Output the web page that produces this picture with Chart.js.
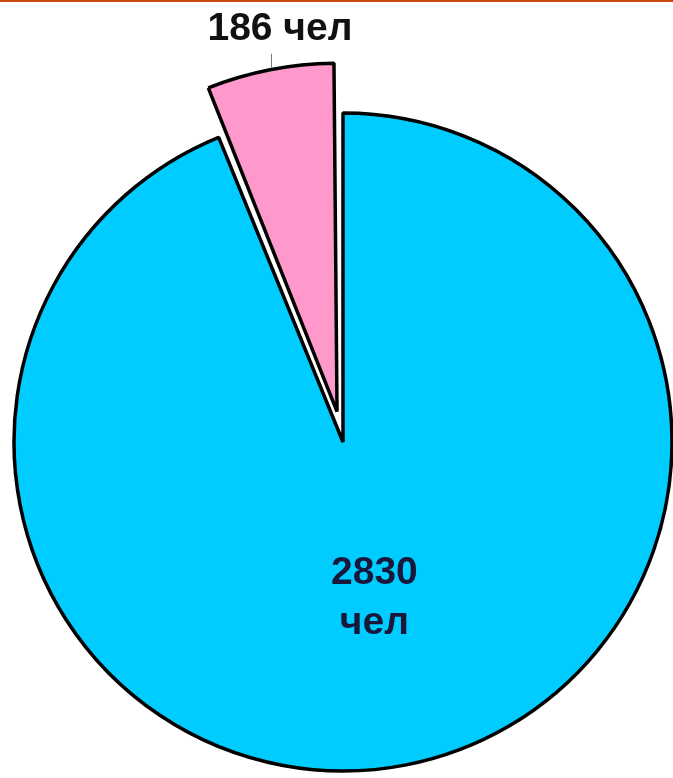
<!DOCTYPE html>
<html>
<head>
<meta charset="utf-8">
<script src="https://cdn.jsdelivr.net/npm/chart.js@4"></script>
<style>
  html, body { margin: 0; padding: 0; background: #ffffff; }
  #wrap { position: relative; width: 673px; height: 778px; }
  #topline { position: absolute; left: 0; top: 0; width: 673px; height: 2px; background: #C9470F; z-index: 2; }
  canvas { display: block; }
</style>
</head>
<body>
<div id="wrap">
  <div id="topline"></div>
  <canvas id="c" width="673" height="778"></canvas>
</div>
<script>
const categories = ['2830 чел', '186 чел'];
const values = [2830, 186];
const valueLabels = [['2830', 'чел'], ['186 чел']];
const sliceColors = ['#00CCFF', '#FF99CC'];

const labelPlugin = {
  id: 'sliceLabels',
  afterDatasetsDraw(chart) {
    const ctx = chart.ctx;
    const meta = chart.getDatasetMeta(0);
    ctx.save();
    ctx.font = 'bold 39px "Liberation Sans", Arial, sans-serif';
    ctx.textAlign = 'center';
    ctx.textBaseline = 'alphabetic';
    // big slice label (inside)
    const a0 = meta.data[0];
    const mid0 = (a0.startAngle + a0.endAngle) / 2;
    const r0 = a0.outerRadius * 0.48;
    const lx = a0.x + Math.cos(mid0) * r0;
    const ly = a0.y + Math.sin(mid0) * r0;
    ctx.fillStyle = '#17183c';
    ctx.fillText(valueLabels[0][0], lx + 1, ly - 13);
    ctx.fillText(valueLabels[0][1], lx + 1, ly + 37);
    // small slice label (outside with leader line)
    const a1 = meta.data[1];
    const mid1 = (a1.startAngle + a1.endAngle) / 2;
    const off = (a1.options.offset || 0) / 4;
    const fix = 1 - Math.sin(Math.min(Math.PI, a1.endAngle - a1.startAngle));
    const rr = a1.outerRadius + off * fix + off;
    const ox = a1.x + Math.cos(mid1) * rr;
    const oy = a1.y + Math.sin(mid1) * rr;
    ctx.strokeStyle = '#777777';
    ctx.lineWidth = 1;
    ctx.beginPath();
    ctx.moveTo(ox + 1.5, oy - 2);
    ctx.lineTo(ox + 1.5, oy - 16);
    ctx.stroke();
    ctx.fillStyle = '#111111';
    ctx.fillText(valueLabels[1][0], ox + 10, oy - 30);
    ctx.restore();
  }
};

new Chart(document.getElementById('c'), {
  type: 'pie',
  data: {
    labels: categories,
    datasets: [{
      data: values,
      backgroundColor: sliceColors,
      borderColor: '#000000',
      borderWidth: 3.5,
      offset: [0, 124]
    }]
  },
  options: {
    responsive: false,
    animation: false,
    radius: 329,
    layout: { padding: { left: 13, right: 0, top: 106, bottom: 0 } },
    plugins: {
      legend: { display: false },
      tooltip: { enabled: false }
    }
  },
  plugins: [labelPlugin]
});
</script>
</body>
</html>
